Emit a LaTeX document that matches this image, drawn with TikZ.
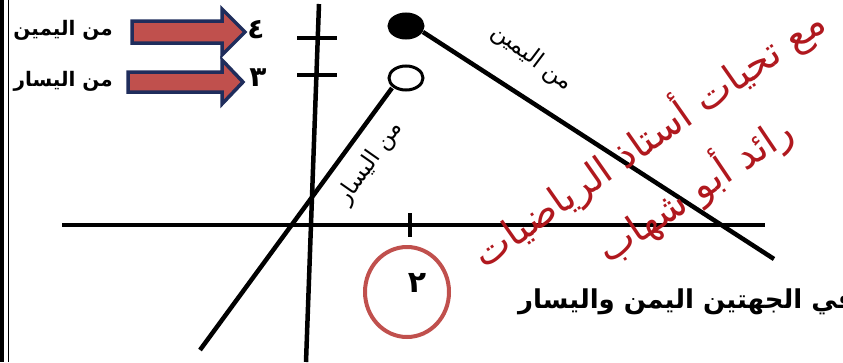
\documentclass[tikz,border=0pt]{standalone}
\usepackage{fontspec}
\usetikzlibrary{shapes.geometric}
\newfontfamily\ar[Script=Arabic]{DejaVu Sans}
\TeXXeTstate=1
\definecolor{arrowred}{HTML}{C0504D}
\definecolor{navy}{HTML}{1F2D5C}
\definecolor{wmred}{HTML}{B0181E}
\begin{document}
\begin{tikzpicture}[x=1pt,y=-1pt,
  axis/.style={line width=4.5pt},
  tickline/.style={line width=4.5pt},
  lbl/.style={font=\ar\bfseries\fontsize{20}{22}\selectfont, inner sep=0pt},
  num/.style={font=\ar\bfseries\fontsize{28}{30}\selectfont, inner sep=0pt},
  ray/.style={font=\ar\fontsize{23}{25}\selectfont, inner sep=0pt},
  wm/.style={font=\ar\fontsize{39}{41}\selectfont, text=wmred, inner sep=0pt},
  blockarrow/.style={fill=arrowred, draw=navy, line width=3.5pt, line join=miter},
  endpt/.style={ellipse, draw=black, line width=3pt, minimum width=34pt, minimum height=24pt, inner sep=0pt}
]
\useasboundingbox (0,0) rectangle (843,362);
\clip (0,0) rectangle (843,362);

% left border
\draw[line width=4pt] (2,0) -- (2,362);
\draw[line width=1.5pt] (8.5,0) -- (8.5,362);

% left labels and arrows
\begin{scope}
\clip (10,0) rectangle (130,120);
\node[lbl, anchor=east] (lright) at (113,30) {\beginR من اليمين\endR};
\node[lbl, anchor=east] (lleft) at (113,81) {\beginR من اليسار\endR};
\end{scope}
\draw[blockarrow] (132,21) -- (222,21) -- (222,9) -- (245,32) -- (222,55) -- (222,43) -- (132,43) -- cycle;
\draw[blockarrow] (128,72) -- (222,72) -- (222,60) -- (243,82) -- (222,104) -- (222,92) -- (128,92) -- cycle;
\node[num] (n4) at (256,30) {\beginR ٤\endR};
\node[num] (n3) at (258,78) {\beginR ٣\endR};

% axes
\coordinate (vtop) at (319,4);
\coordinate (vbot) at (306,362);
\draw[axis] (vtop) -- (vbot);
\coordinate (hl) at (62,225);
\coordinate (hr) at (765,225);
\draw[axis] (hl) -- (hr);
\draw[tickline] (297,38) -- (337,38);
\draw[tickline] (297,75) -- (337,75);
\draw[tickline] (410,213) -- (410,237);

% rays
\node[endpt, fill=black] (fc) at (406,26) {};
\node[endpt, fill=white] (oc) at (406,78) {};
\coordinate (rend) at (774,259);
\coordinate (lend) at (200,350);
\draw[axis] (423,32) -- (rend);
\draw[axis] (392,88) -- (lend);
\node[ray, rotate=-37] (tright) at (532,58) {\beginR من اليمين\endR};
\node[ray, rotate=55] (tleft) at (370,163) {\beginR من اليسار\endR};

% circled number
\draw[arrowred, line width=4pt] (407,292) ellipse [x radius=42, y radius=45];
\node[num, font=\ar\bfseries\fontsize{30}{32}\selectfont] (n2) at (417,283) {\beginR ٢\endR};

% bottom text
\node[lbl, font=\ar\bfseries\fontsize{26}{28}\selectfont, anchor=base west] (bottom) at (518,308) {\beginR في الجهتين اليمن واليسار\endR};

% watermark
\node[wm, rotate=35] (wm1) at (648,137) {\beginR مع تحيات أستاذ الرياضيات\endR};
\node[wm, rotate=34] (wm2) at (694,189) {\beginR رائد أبو شهاب\endR};
\end{tikzpicture}
\end{document}
